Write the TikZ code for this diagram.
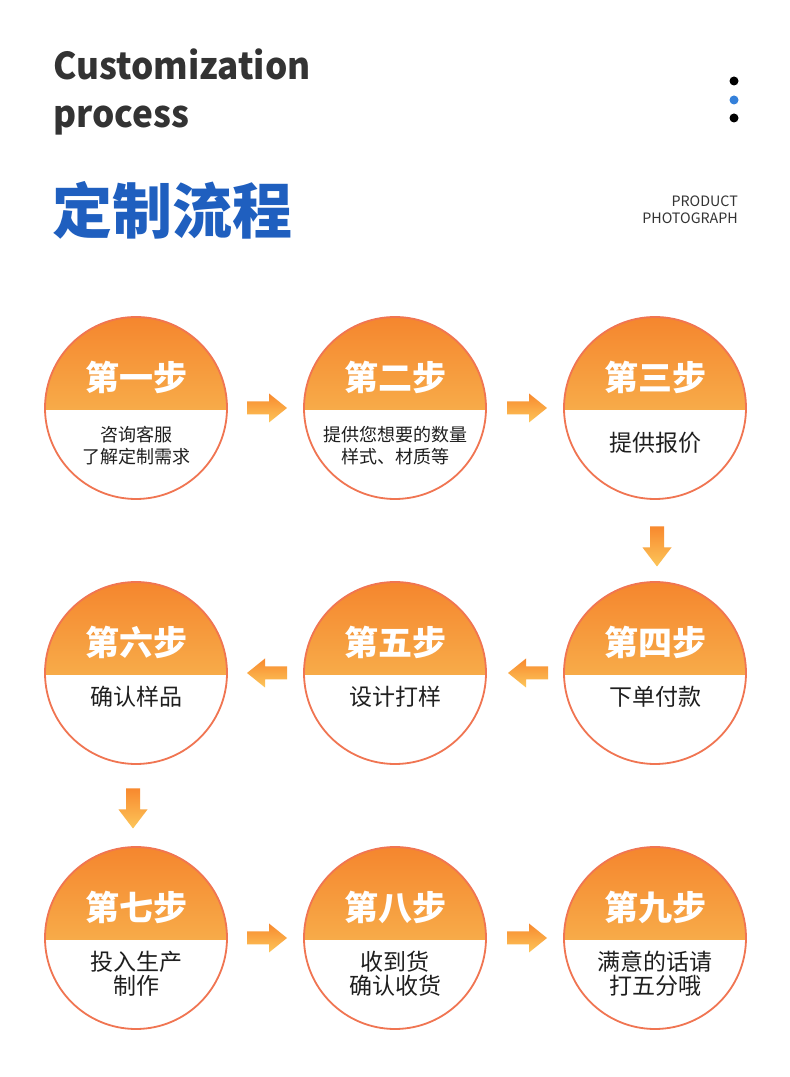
\documentclass[tikz,border=0pt]{standalone}
\usepackage{fontspec}
\setmainfont{Noto Sans CJK SC}
\newfontfamily\narrowfont[FakeStretch=0.95]{Noto Sans CJK SC}
\usetikzlibrary{calc}
\definecolor{StepOrange}{RGB}{245,134,46}
\definecolor{StepYellow}{RGB}{249,207,99}
\definecolor{CircleEdge}{RGB}{240,117,82}
\definecolor{ArrowOrange}{RGB}{248,137,46}
\definecolor{ArrowYellow}{RGB}{252,198,90}
\definecolor{TitleGray}{RGB}{51,51,51}
\definecolor{TitleBlue}{RGB}{31,95,191}
\definecolor{DotBlue}{RGB}{52,128,218}

\begin{document}
\begin{tikzpicture}[x=1pt,y=1pt,
    stepcircle/.style={circle,draw=CircleEdge,line width=1.8pt,minimum size=182pt,inner sep=0pt,
      path picture={\shade[top color=StepOrange,bottom color=StepYellow]
        (path picture bounding box.north west) rectangle ([yshift=-2pt]path picture bounding box.east);}},
    steptitle/.style={text=white,inner sep=0pt,font=\bfseries\fontsize{34}{40}\selectfont},
    stepnote/.style={align=center,inner sep=0pt,text=black!88},
    rightarrow/.pic={\shade[top color=ArrowOrange,bottom color=ArrowYellow]
      (-20,-6.5)--(2,-6.5)--(2,-14.5)--(20,0)--(2,14.5)--(2,6.5)--(-20,6.5)--cycle;},
    leftarrow/.pic={\shade[top color=ArrowOrange,bottom color=ArrowYellow]
      (20,-6.5)--(-2,-6.5)--(-2,-14.5)--(-20,0)--(-2,14.5)--(-2,6.5)--(20,6.5)--cycle;},
    downarrow/.pic={\shade[top color=ArrowOrange,bottom color=ArrowYellow]
      (-7,20)--(-7,-1)--(-14.5,-1)--(0,-20)--(14.5,-1)--(7,-1)--(7,20)--cycle;}]
  \fill[white] (0,0) rectangle (790,1077);
  \useasboundingbox (0,0) rectangle (790,1077);
  % header
  \node[anchor=base west,inner sep=0pt,text=TitleGray,font=\narrowfont\bfseries\fontsize{37}{44}\selectfont] (entitle) at (53,997) {Customization};
  \node[anchor=base west,inner sep=0pt,text=TitleGray,font=\narrowfont\bfseries\fontsize{37}{44}\selectfont] (enprocess) at (53,949) {process};
  \node[anchor=base west,inner sep=0pt,text=TitleBlue,font=\bfseries\fontsize{60}{70}\selectfont] (cntitle) at (52,843) {定制流程};
  \node[anchor=base east,inner sep=0pt,text=TitleGray,font=\fontsize{14.3}{17}\selectfont] (tagtop) at (738,870) {PRODUCT};
  \node[anchor=base east,inner sep=0pt,text=TitleGray,font=\fontsize{14.3}{17}\selectfont] (tagbottom) at (738,853) {PHOTOGRAPH};
  \fill[black] (734,996) circle (4.5);
  \fill[DotBlue] (734,977) circle (4.5);
  \fill[black] (734,959) circle (4.5);
  % steps
  \foreach \n/\x/\y/\t/\d/\o/\f/\l in {
      1/136/669/第一步/{咨询客服\\了解定制需求}/38/18/22,
      2/395/669/第二步/{提供您想要的数量\\样式、材质等}/38/18/22,
      3/655/669/第三步/{提供报价}/35/23/27,
      4/655/404/第四步/{下单付款}/24/23/27,
      5/395/404/第五步/{设计打样}/24/23/27,
      6/136/404/第六步/{确认样品}/24/23/27,
      7/136/139/第七步/{投入生产\\制作}/36/23/24,
      8/395/139/第八步/{收到货\\确认收货}/36/23/24,
      9/655/139/第九步/{满意的话请\\打五分哦}/36/23/24}{
    \node[stepcircle] (s\n) at (\x,\y) {};
    \node[steptitle] (t\n) at ($(s\n)+(0,31)$) {\t};
    \node[stepnote,font=\fontsize{\f}{\l}\selectfont] (d\n) at ($(s\n)+(0,-\o)$) {\d};
  }
  % arrows between steps
  \pic at ($(s1)!0.5!(s2)+(1.5,0)$) {rightarrow};
  \pic at ($(s2)!0.5!(s3)+(2,0)$) {rightarrow};
  \pic at ($(s3)!0.5!(s4)+(2,-6)$) {downarrow};
  \pic at ($(s4)!0.5!(s5)+(3,0)$) {leftarrow};
  \pic at ($(s5)!0.5!(s6)+(1.5,0)$) {leftarrow};
  \pic at ($(s6)!0.5!(s7)+(-3,-3)$) {downarrow};
  \pic at ($(s7)!0.5!(s8)+(1.5,0)$) {rightarrow};
  \pic at ($(s8)!0.5!(s9)+(2,0)$) {rightarrow};
\end{tikzpicture}
\end{document}
